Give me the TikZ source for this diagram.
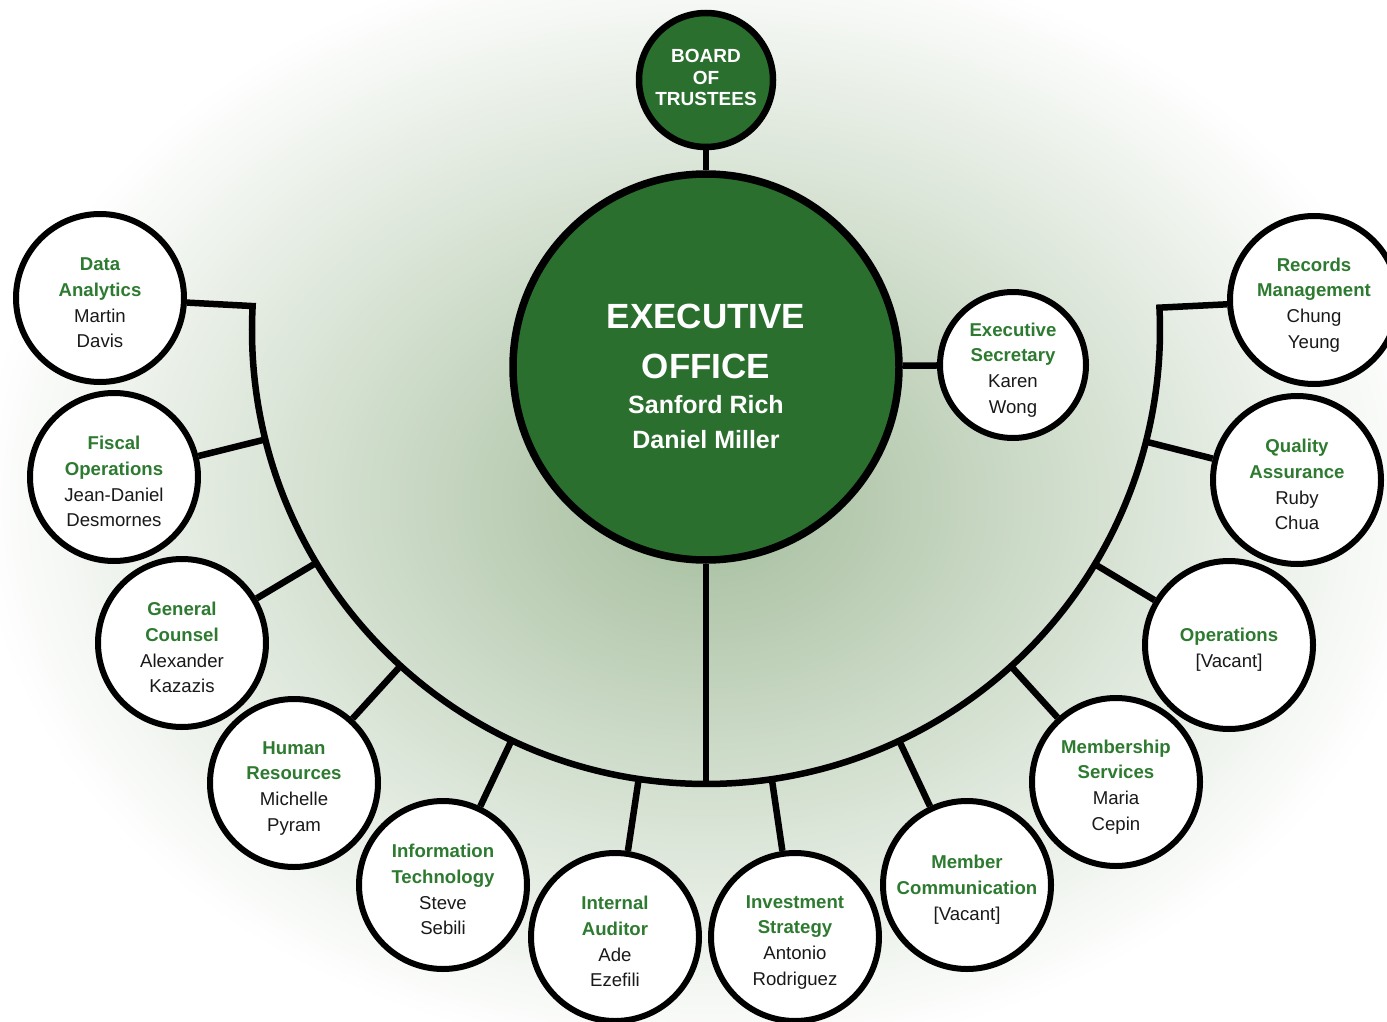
\documentclass[tikz,border=0pt]{standalone}
\usepackage{fontspec}
\setmainfont{Liberation Sans}
\usetikzlibrary{calc,backgrounds}
\definecolor{dkgreen}{RGB}{42,111,46}
\definecolor{txtgreen}{RGB}{45,122,48}
\definecolor{bgc}{RGB}{164,189,156}
\definecolor{namec}{RGB}{25,25,25}
\newcommand{\dtitle}[1]{\textcolor{txtgreen}{\bfseries #1}}
\newcommand{\topstrut}{\rule{0pt}{23pt}}
\begin{document}
\begin{tikzpicture}[x=1pt,y=1pt,
  unit/.style={circle, draw=black, line width=6pt, fill=white, minimum size=168pt,
    inner sep=0pt, align=center, text=namec, font=\fontsize{18.6}{25.7}\selectfont},
  sec/.style={unit, minimum size=146pt},
  greenbig/.style={circle, draw=black, fill=dkgreen, inner sep=0pt, text=white, align=center},
  conn/.style={line width=6.5pt, line join=miter},
]
\path[use as bounding box] (0,0) rectangle (1387,-1022);
\clip (0,0) rectangle (1387,-1022);

% top nodes
\node[greenbig, line width=6.5pt, minimum size=134pt,
  font=\fontsize{19}{21.3}\selectfont\bfseries] (board) at (706,-80) {BOARD\\OF\\TRUSTEES\rule[-5pt]{0pt}{5pt}};
\node[greenbig, line width=7.5pt, minimum size=386pt] (exec) at (706,-367) {};
\node[text=white, align=center, inner sep=0pt,
  font=\fontsize{25}{35}\selectfont\bfseries] (exectxt) at (706,-376)
  {{\fontsize{35}{35}\selectfont EXECUTIVE}\\[15pt]{\fontsize{35}{35}\selectfont OFFICE}\\Sanford Rich\\Daniel Miller};
\node[sec] (secr) at (1013,-365) {\topstrut\dtitle{Executive}\\\dtitle{Secretary}\\Karen\\Wong};

% satellite units
\node[unit] (da) at (100,-298) {\topstrut\dtitle{Data}\\\dtitle{Analytics}\\Martin\\Davis};
\node[unit] (fo) at (114,-477) {\topstrut\dtitle{Fiscal}\\\dtitle{Operations}\\Jean-Daniel\\Desmornes};
\node[unit] (gc) at (182,-643) {\topstrut\dtitle{General}\\\dtitle{Counsel}\\Alexander\\Kazazis};
\node[unit] (hr) at (294,-783) {\topstrut\dtitle{Human}\\\dtitle{Resources}\\Michelle\\Pyram};
\node[unit] (it) at (443,-885) {\topstrut\dtitle{Information}\\\dtitle{Technology}\\Steve\\Sebili};
\node[unit] (ia) at (615,-937) {\topstrut\dtitle{Internal}\\\dtitle{Auditor}\\Ade\\Ezefili};
\node[unit] (is) at (795,-937) {\topstrut\dtitle{Investment}\\\dtitle{Strategy}\\Antonio\\Rodriguez};
\node[unit] (mc) at (967,-885) {\topstrut\dtitle{Member}\\\dtitle{Communication}\\{[Vacant]}};
\node[unit] (ms) at (1116,-782) {\topstrut\dtitle{Membership}\\\dtitle{Services}\\Maria\\Cepin};
\node[unit] (op) at (1229,-645) {\topstrut\dtitle{Operations}\\{[Vacant]}};
\node[unit] (qa) at (1297,-480) {\topstrut\dtitle{Quality}\\\dtitle{Assurance}\\Ruby\\Chua};
\node[unit] (rm) at (1314,-300) {\topstrut\dtitle{Records}\\\dtitle{Management}\\Chung\\Yeung};

\begin{scope}[on background layer]
  \fill[white] (0,0) rectangle (1387,-1022);
  \shade[inner color=bgc, outer color=white] (706,-500) ellipse [x radius=730pt, y radius=560pt];
  \coordinate (O) at (706,-330);
  \foreach \n in {da,fo,gc,hr,it,ia,is,mc,ms,op,qa,rm}
    \coordinate (a-\n) at ($(O)!454pt!(\n)$);
  \coordinate (abot) at ($(O)+(0,-455)$);
  \draw[conn] (board) -- (exec);
  \draw[conn] (exec) -- (secr);
  \draw[conn] (exec) -- (abot);
  \draw[conn] (da) -- (a-da) arc[start angle=176.98, end angle=362.82, radius=454pt] -- (rm);
  \foreach \n in {fo,gc,hr,it,ia,is,mc,ms,op,qa}
    \draw[conn] (\n) -- (a-\n);
\end{scope}
\end{tikzpicture}
\end{document}
